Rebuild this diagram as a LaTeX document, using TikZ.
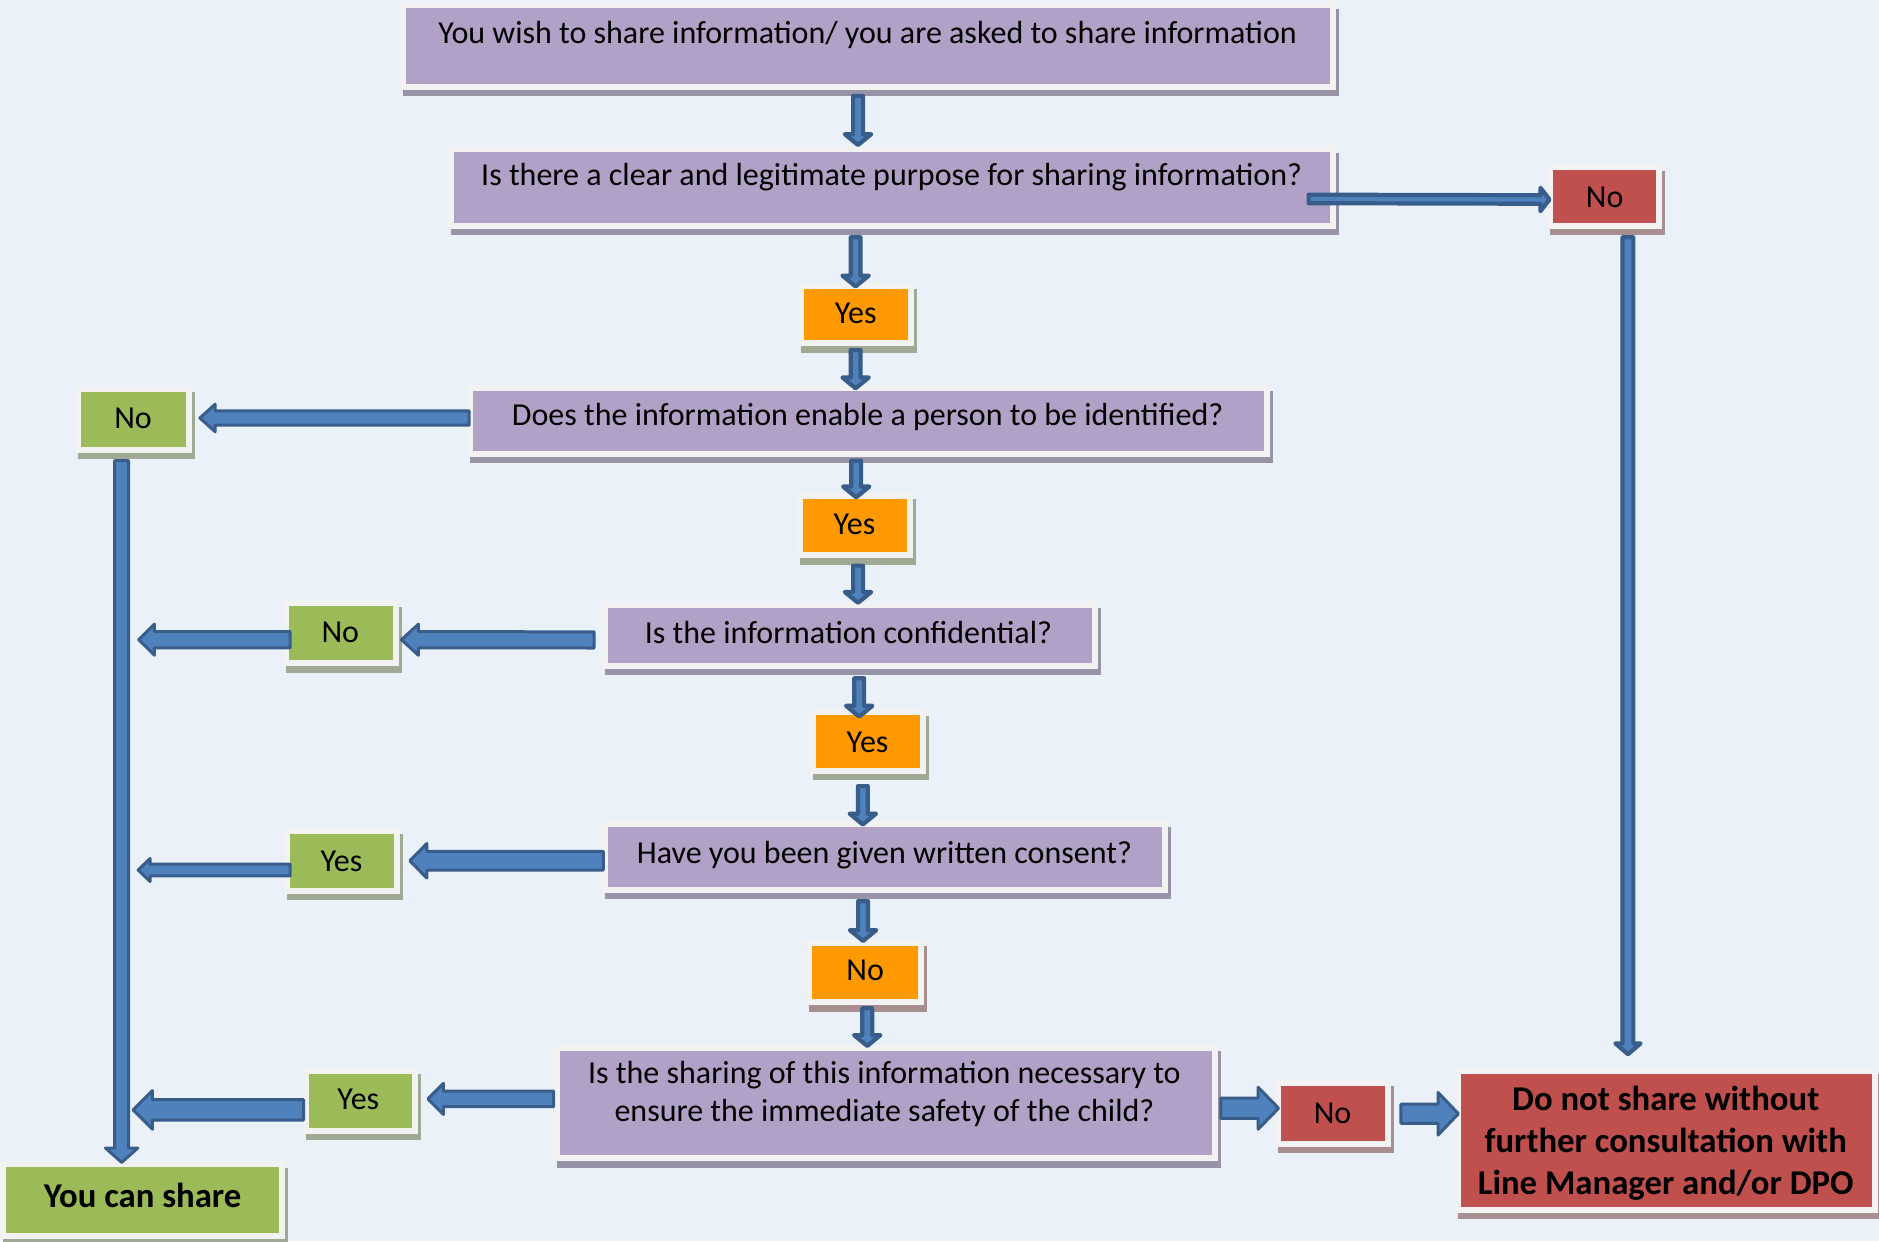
\documentclass[tikz,border=0pt]{standalone}
\usepackage{fontspec}
\setmainfont{Carlito}
\usetikzlibrary{calc}
\definecolor{bg}{HTML}{EAF1F8}
\definecolor{purp}{HTML}{B2A1C7}
\definecolor{orng}{HTML}{FF9900}
\definecolor{grn}{HTML}{9BBB59}
\definecolor{rd}{HTML}{C0504D}
\definecolor{frm}{HTML}{F2F2F2}
\definecolor{shp}{HTML}{9794A8}
\definecolor{shg}{HTML}{9FA993}
\definecolor{shr}{HTML}{A88E91}
\definecolor{afill}{HTML}{4F81BD}
\definecolor{aline}{HTML}{385D8A}
\tikzset{
  box/.style 2 args={rectangle, inner sep=0pt, outer sep=0pt, draw=frm, line width=5pt, fill=#1,
    preaction={draw=#2, fill=#2, line width=5pt, transform canvas={shift={(2.5pt,-5.3pt)}}}},
  pbox/.style={box={purp}{shp}},
  obox/.style={box={orng}{shg}},
  onbox/.style={box={orng}{shr}},
  gbox/.style={box={grn}{shg}},
  rbox/.style={box={rd}{shr}},
  txt/.style={inner sep=0pt, text height=0.64em, text depth=0pt, yshift=-5pt, font=\fontsize{26.7}{32}\selectfont},
  btxt/.style={inner sep=0pt, text height=0.64em, text depth=0pt, yshift=-6.5pt, font=\fontsize{29}{35}\selectfont\bfseries},
  varr/.style={fill=afill, draw=aline, line width=3.5pt, line join=round},
  harr/.style={fill=afill, draw=aline, line width=2.5pt, line join=round},
}
% block arrow: style, start, end, half shaft, half head, head length
\newcommand\barrow[6]{%
  \path #2 coordinate (baS) #3 coordinate (baE);
  \path ($(baE)!#6pt!(baS)$) coordinate (baH);
  \filldraw[#1] ($(baS)!#4pt!90:(baE)$) -- ($(baH)!#4pt!90:(baE)$) -- ($(baH)!#5pt!90:(baE)$)
    -- (baE) -- ($(baH)!#5pt!-90:(baE)$) -- ($(baH)!#4pt!-90:(baE)$) -- ($(baS)!#4pt!-90:(baE)$) -- cycle;
}
\begin{document}
\begin{tikzpicture}[x=1pt,y=-1pt]
\fill[bg] (0,0) rectangle (1568,1036);
\useasboundingbox (0,0) rectangle (1568,1036);

% boxes
\node[pbox, minimum width=776pt, minimum height=68pt] (A) at (724.5,38.5) {};
\node[pbox, minimum width=736pt, minimum height=64pt] (B) at (744.5,156.5) {};
\node[rbox, minimum width=91pt, minimum height=49pt] (RN1) at (1339,164) {};
\node[obox, minimum width=92pt, minimum height=48pt] (Y1) at (714.5,262.5) {};
\node[pbox, minimum width=665pt, minimum height=55pt] (C) at (725,351) {};
\node[gbox, minimum width=92pt, minimum height=51pt] (GN1) at (111.5,350) {};
\node[obox, minimum width=92pt, minimum height=50pt] (Y2) at (713.5,438.5) {};
\node[pbox, minimum width=409pt, minimum height=51pt] (D) at (709,530) {};
\node[gbox, minimum width=92pt, minimum height=50pt] (GN2) at (284.5,528.5) {};
\node[obox, minimum width=92pt, minimum height=49pt] (Y3) at (724.5,619) {};
\node[pbox, minimum width=468pt, minimum height=55pt] (E) at (738.5,715) {};
\node[gbox, minimum width=92pt, minimum height=50pt] (GY1) at (285.5,718.5) {};
\node[onbox, minimum width=93pt, minimum height=50pt] (ON) at (722,811.5) {};
\node[pbox, minimum width=549pt, minimum height=92pt] (F) at (739,920.5) {};
\node[gbox, minimum width=91pt, minimum height=50pt] (GY2) at (301,918.5) {};
\node[gbox, minimum width=233pt, minimum height=60pt] (SH) at (119,1001.5) {};
\node[rbox, minimum width=92pt, minimum height=51pt] (RN2) at (1112.5,929) {};
\node[rbox, minimum width=348pt, minimum height=116pt] (DN) at (1390.5,951.5) {};
\coordinate (tk) at ($(GN1.south)+(-10,0)$);

% texts
\node[txt] (tA) at (724,28) {You wish to share information/ you are asked to share information};
\node[txt] (tB) at (744,147) {Is there a clear and legitimate purpose for sharing information?};
\node[txt] (tRN1) at (1339,165) {No};
\node[txt] (tY1) at (714,262) {Yes};
\node[txt] (tC) at (724,347) {Does the information enable a person to be identified?};
\node[txt] (tGN1) at (111,349) {No};
\node[txt] (tY2) at (713,438) {Yes};
\node[txt] (tD) at (708,529) {Is the information confidential?};
\node[txt] (tGN2) at (284,528) {No};
\node[txt] (tY3) at (724,620) {Yes};
\node[txt] (tE) at (738,712) {Have you been given written consent?};
\node[txt] (tGY1) at (285,719) {Yes};
\node[txt] (tON) at (722,810) {No};
\node[txt] (tF1) at (738,896) {Is the sharing of this information necessary to};
\node[txt] (tF2) at (738,928) {ensure the immediate safety of the child?};
\node[txt] (tGY2) at (299,918) {Yes};
\node[btxt] (tSH) at (119,998) {You can share};
\node[txt] (tRN2) at (1112,929) {No};
\node[btxt] (tDN1) at (1390,917) {Do not share without};
\node[btxt] (tDN2) at (1390,952) {further consultation with};
\node[btxt] (tDN3) at (1390,987) {Line Manager and/or DPO};

% arrows
\barrow{varr}{($(A.south)+(-8.5,7.5)$)}{($(B.north)+(-28.5,-3.5)$)}{4.1}{11}{9}
\barrow{varr}{($(B.east)+(-20.5,9.5)$)}{($(RN1.west)+(-0.5,2.5)$)}{3.55}{9.75}{7.5}
\barrow{varr}{($(RN1.south)+(19.5,9.5)$)}{($(DN.north)+(-32,-13.8)$)}{4.5}{10.5}{9}
\barrow{varr}{($(B.south)+(-30.5,9.5)$)}{($(Y1.north)+(-0.5,0.5)$)}{4.1}{11}{9}
\barrow{varr}{($(Y1.south)+(-0.5,5.5)$)}{($(C.north)+(-11,0.5)$)}{4.1}{11}{9}
\barrow{harr}{($(C.west)+(-1,-2.2)$)}{($(GN1.east)+(9.3,-1.2)$)}{6}{11.5}{12.8}
\barrow{harr}{($(GN1.south)+(-10,8.9)$)}{($(SH.north)+(-17.5,-1.5)$)}{5.75}{13.5}{12}
\barrow{varr}{($(C.south)+(-10.5,6)$)}{($(Y2.north)+(1,1.5)$)}{4.1}{11}{9}
\barrow{varr}{($(Y2.south)+(2.5,8.5)$)}{($(D.north)+(7,-1.5)$)}{4.1}{11}{9}
\barrow{harr}{($(D.west)+(-8.75,4)$)}{($(GN2.east)+(4.5,5.3)$)}{6.75}{13}{14.2}
\barrow{harr}{($(GN2.west)+(3.7,5.3)$)}{($(tk |- GN2.west)+(14.3,5.3)$)}{6.75}{13}{13.1}
\barrow{varr}{($(D.south)+(8,10.5)$)}{($(Y3.north)+(-7.5,3.5)$)}{4.1}{11}{9}
\barrow{varr}{($(Y3.south)+(-4.5,12.5)$)}{($(E.north)+(-18.5,0.5)$)}{4.1}{11}{9}
\barrow{harr}{($(E.west)+(-1,3.3)$)}{($(GY1.east)+(10.5,-0.2)$)}{7.75}{14.45}{14.2}
\barrow{harr}{($(GY1.west)+(2.7,7.5)$)}{($(tk |- GY1.west)+(13.75,7.5)$)}{4.85}{9.6}{10}
\barrow{varr}{($(E.south)+(-18.3,9.5)$)}{($(ON.north)+(-1.8,-1.3)$)}{4.1}{11}{9}
\barrow{varr}{($(ON.south)+(1.7,4.9)$)}{($(F.north)+(-15.3,-1.7)$)}{4.1}{11}{9}
\barrow{harr}{($(F.west)+(-2.5,-3.5)$)}{($(GY2.east)+(10.5,-1.5)$)}{6.5}{13}{13}
\barrow{harr}{($(GY2.west)+(-2.2,7.7)$)}{($(tk |- GY2.west)+(9.6,7.7)$)}{8.5}{16.15}{16.1}
\barrow{harr}{($(F.east)+(5.2,4.3)$)}{($(RN2.west)+(0.4,-4.2)$)}{8.5}{17.5}{17}
\barrow{harr}{($(RN2.east)+(10.5,0.4)$)}{($(DN.west)+(0.5,-22.1)$)}{8}{17.8}{17}
\end{tikzpicture}
\end{document}
